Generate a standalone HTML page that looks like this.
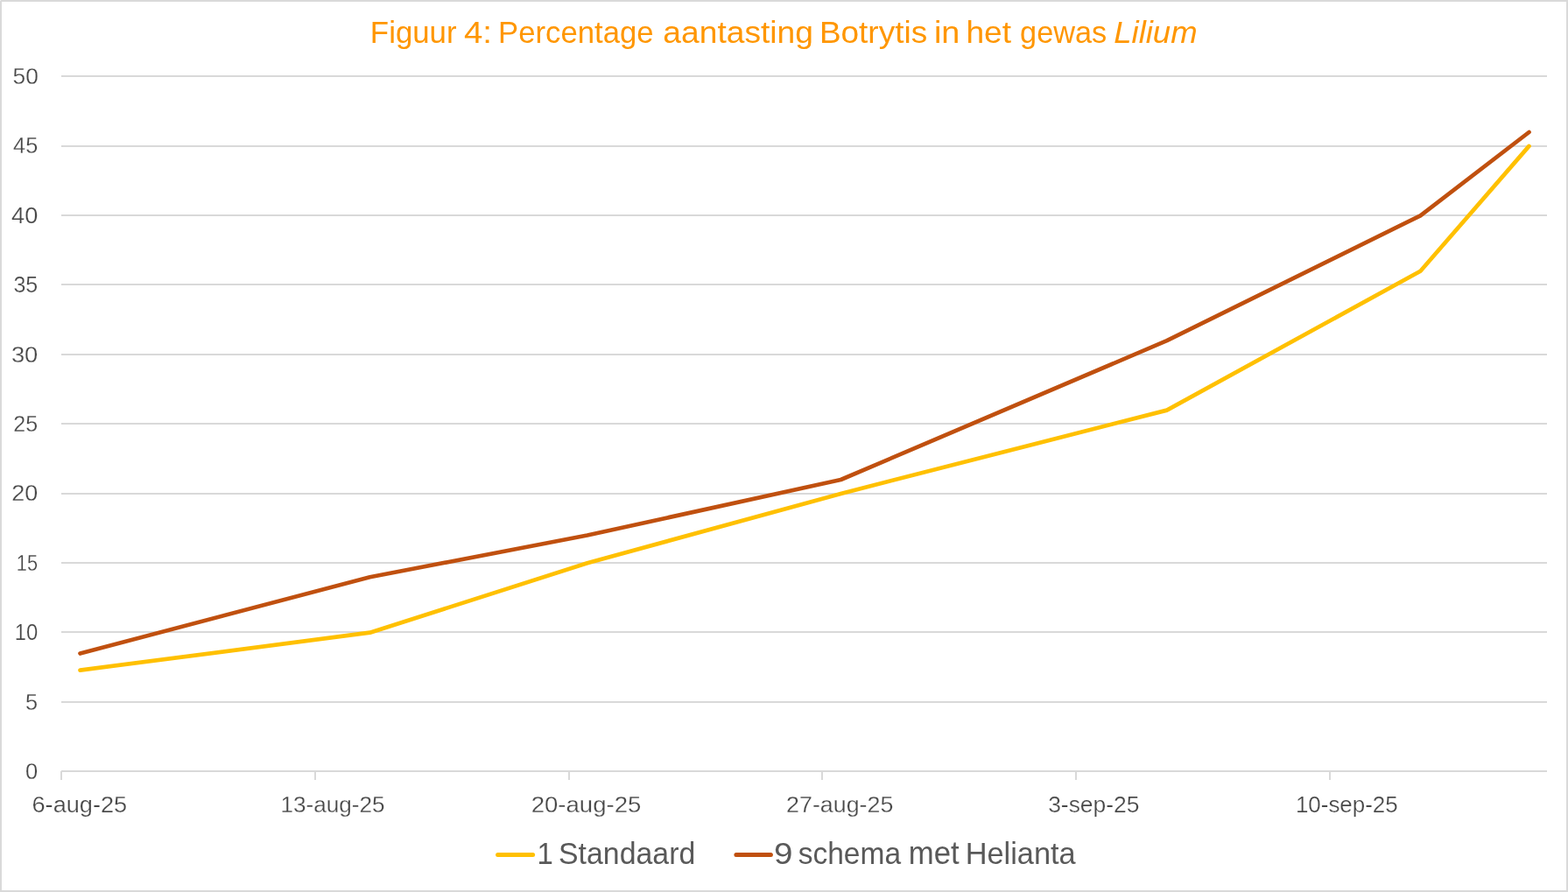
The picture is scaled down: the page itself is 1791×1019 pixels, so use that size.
<!DOCTYPE html>
<html lang="nl">
<head>
<meta charset="utf-8">
<title>Figuur 4: Percentage aantasting Botrytis in het gewas Lilium</title>
<style>
html,body{margin:0;padding:0;background:#fff;}
body{width:1791px;height:1019px;overflow:hidden;}
svg{display:block;}
text{font-family:"Liberation Sans",Arial,sans-serif;}
.ax{font-size:25.4px;fill:#474747;stroke:#fff;stroke-width:0.25px;}
.lg{font-size:36px;fill:#595959;}
.tt{font-size:34.5px;fill:#FF9600;}
</style>
</head>
<body>
<svg width="1791" height="1019" viewBox="0 0 1791 1019">
<rect x="0" y="0" width="1791" height="1019" fill="#ffffff"/>
<rect x="1" y="1" width="1789" height="1017" fill="none" stroke="#D9D9D9" stroke-width="2"/>
<rect x="0" y="0" width="1" height="1" fill="#F0F0F0"/>
<!-- title -->
<g class="tt">
<text transform="translate(422.87,48.50) scale(1.0096,1)">Figuur</text>
<text transform="translate(529.89,48.50) scale(1.1147,1)">4:</text>
<text transform="translate(568.98,48.50) scale(1.0066,1)">Percentage</text>
<text transform="translate(757.36,48.50) scale(1.0779,1)">aantasting</text>
<text transform="translate(935.89,48.50) scale(1.0715,1)">Botrytis</text>
<text transform="translate(1066.95,48.50) scale(1.0959,1)">in</text>
<text transform="translate(1103.41,48.50) scale(1.0762,1)">het</text>
<text transform="translate(1165.12,48.50) scale(0.9942,1)">gewas</text>
<text transform="translate(1272.25,48.50) scale(1.0578,1)" font-style="italic">Lilium</text>
</g>
<!-- gridlines and axis -->
<g stroke="#D9D9D9" stroke-width="2" shape-rendering="crispEdges">
<line x1="70" y1="87" x2="1767" y2="87"/>
<line x1="70" y1="167" x2="1767" y2="167"/>
<line x1="70" y1="246" x2="1767" y2="246"/>
<line x1="70" y1="325" x2="1767" y2="325"/>
<line x1="70" y1="405" x2="1767" y2="405"/>
<line x1="70" y1="484" x2="1767" y2="484"/>
<line x1="70" y1="564" x2="1767" y2="564"/>
<line x1="70" y1="643" x2="1767" y2="643"/>
<line x1="70" y1="722" x2="1767" y2="722"/>
<line x1="70" y1="802" x2="1767" y2="802"/>
<line x1="70" y1="881" x2="1767" y2="881"/>
<line x1="70" y1="881" x2="70" y2="891"/>
<line x1="360" y1="881" x2="360" y2="891"/>
<line x1="650" y1="881" x2="650" y2="891"/>
<line x1="939" y1="881" x2="939" y2="891"/>
<line x1="1229" y1="881" x2="1229" y2="891"/>
<line x1="1519" y1="881" x2="1519" y2="891"/>
</g>
<!-- value axis labels -->
<g class="ax">
<text transform="translate(14.49,95.90) scale(1.0375,1)">50</text>
<text transform="translate(15.07,175.30) scale(0.9981,1)">45</text>
<text transform="translate(13.02,254.70) scale(1.0732,1)">40</text>
<text transform="translate(15.40,334.10) scale(0.9859,1)">35</text>
<text transform="translate(12.88,413.50) scale(1.0785,1)">30</text>
<text transform="translate(15.37,492.90) scale(0.9869,1)">25</text>
<text transform="translate(13.27,572.30) scale(1.0641,1)">20</text>
<text transform="translate(18.83,651.70) scale(0.8585,1)">15</text>
<text transform="translate(16.67,731.10) scale(0.9380,1)">10</text>
<text transform="translate(29.04,810.50) scale(0.9982,1)">5</text>
<text transform="translate(28.92,889.90) scale(1.0061,1)">0</text>
</g>
<!-- date axis labels -->
<g class="ax">
<text transform="translate(36.51,928.10) scale(1.0696,1)">6-aug-25</text>
<text transform="translate(320.49,928.10) scale(1.0276,1)">13-aug-25</text>
<text transform="translate(606.74,928.10) scale(1.0848,1)">20-aug-25</text>
<text transform="translate(898.08,928.10) scale(1.0557,1)">27-aug-25</text>
<text transform="translate(1197.13,928.10) scale(1.0413,1)">3-sep-25</text>
<text transform="translate(1479.91,928.10) scale(1.0212,1)">10-sep-25</text>
</g>
<!-- series -->
<g fill="none" stroke-width="4.7" stroke-linecap="round" stroke-linejoin="round">
<path d="M91.5 765.6 L422.5 722.7 L670.8 643.3 L960.4 563.9 L1332.8 468.6 L1622.4 309.8 L1746.5 166.9" stroke="#FFC000"/>
<path d="M91.5 746.5 L422.5 659.2 L670.8 611.5 L960.4 548.0 L1332.8 389.2 L1622.4 246.3 L1746.5 151.0" stroke="#C0500F"/>
<path d="M568.6 976.5 L608.6 976.5" stroke="#FFC000" stroke-width="5"/>
<path d="M840.9 976.5 L880.4 976.5" stroke="#C0500F" stroke-width="5"/>
</g>
<!-- legend -->
<g class="lg">
<text transform="translate(613.49,987.00) scale(0.9605,1)" style="font-size:34.3px">1</text>
<text transform="translate(638.02,987.00) scale(0.9404,1)">Standaard</text>
<text transform="translate(884.11,987.00) scale(1.1244,1)" style="font-size:34.3px">9</text>
<text transform="translate(911.65,987.00) scale(0.9322,1)">schema</text>
<text transform="translate(1037.85,987.00) scale(0.9655,1)">met</text>
<text transform="translate(1102.63,987.00) scale(0.9550,1)">Helianta</text>
</g>
</svg>
</body>
</html>
